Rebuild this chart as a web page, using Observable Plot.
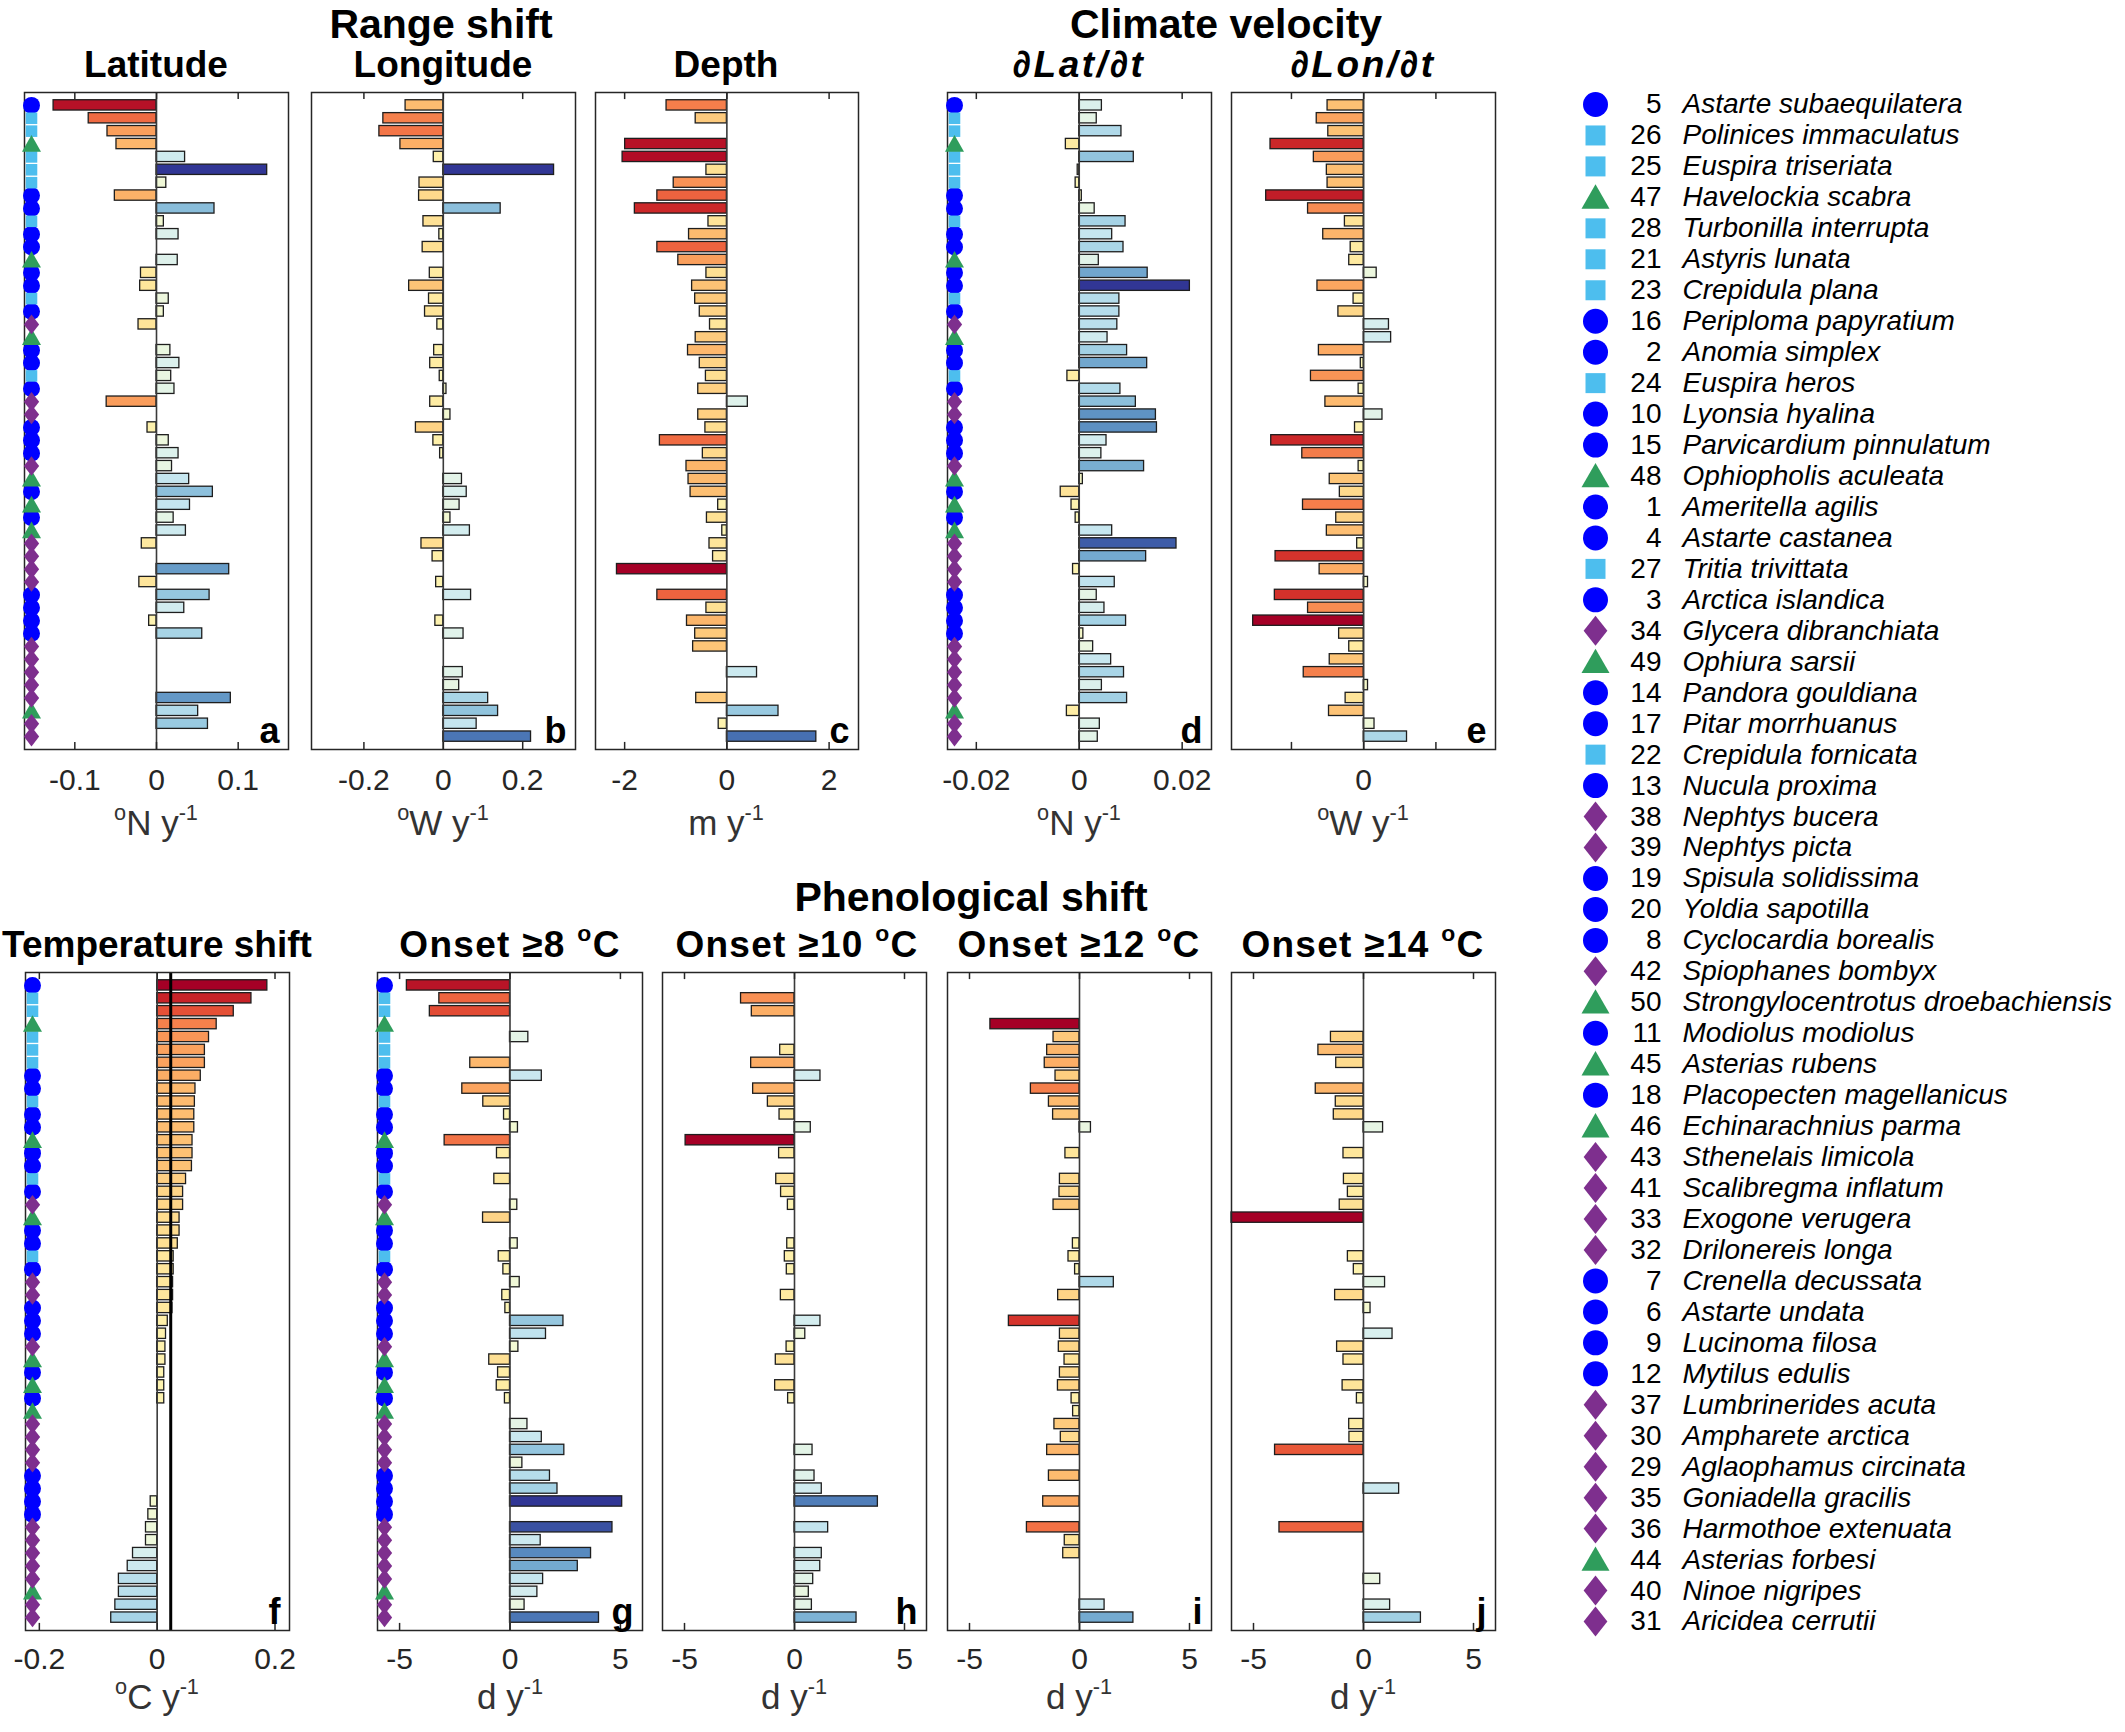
<!DOCTYPE html>
<html><head><meta charset="utf-8">
<script src="https://cdn.jsdelivr.net/npm/d3@7"></script>
<script src="https://cdn.jsdelivr.net/npm/@observablehq/plot@0.6"></script>
<style>
body{margin:0;background:#fff;}
#root{position:relative;width:2125px;height:1732px;font-family:"Liberation Sans",Arial,Helvetica,sans-serif;overflow:hidden;background:#fff}
.t{position:absolute;transform:translate(-50%,-50%);white-space:nowrap;color:#000;line-height:0.8;}
.gt{font-size:41px;font-weight:bold;}
.pt{font-size:37px;font-weight:bold;}
.ons{letter-spacing:1.3px;}
.dd{letter-spacing:2.6px;}
.al{font-size:35px;color:#333;}
.sup{font-size:0.62em;position:relative;top:-0.7em;}
.box{position:absolute;}
</style></head><body><div id="root"></div><script>
// ---------------- DATA ----------------
const speciesId = [5,26,25,47,28,21,23,16,2,24,10,15,48,1,4,27,3,34,49,14,17,22,13,38,39,19,20,8,42,50,11,45,18,46,43,41,33,32,7,6,9,12,37,30,29,35,36,44,40,31];
const speciesName = ["Astarte subaequilatera","Polinices immaculatus","Euspira triseriata","Havelockia scabra","Turbonilla interrupta","Astyris lunata","Crepidula plana","Periploma papyratium","Anomia simplex","Euspira heros","Lyonsia hyalina","Parvicardium pinnulatum","Ophiopholis aculeata","Ameritella agilis","Astarte castanea","Tritia trivittata","Arctica islandica","Glycera dibranchiata","Ophiura sarsii","Pandora gouldiana","Pitar morrhuanus","Crepidula fornicata","Nucula proxima","Nephtys bucera","Nephtys picta","Spisula solidissima","Yoldia sapotilla","Cyclocardia borealis","Spiophanes bombyx","Strongylocentrotus droebachiensis","Modiolus modiolus","Asterias rubens","Placopecten magellanicus","Echinarachnius parma","Sthenelais limicola","Scalibregma inflatum","Exogone verugera","Drilonereis longa","Crenella decussata","Astarte undata","Lucinoma filosa","Mytilus edulis","Lumbrinerides acuta","Ampharete arctica","Aglaophamus circinata","Goniadella gracilis","Harmothoe extenuata","Asterias forbesi","Ninoe nigripes","Aricidea cerrutii"];
// B = bivalve, G = gastropod, E = echinoderm, P = polychaete
const speciesTaxon = ["B","G","G","E","G","G","G","B","B","G","B","B","E","B","B","G","B","P","E","B","B","G","B","P","P","B","B","B","P","E","B","E","B","E","P","P","P","P","B","B","B","B","P","P","P","P","P","E","P","P"];
const taxonColor = {B:"#0000ff", G:"#4dbeee", E:"#2f9d5c", P:"#7e2f8e"};
const N = null;
// Range shift
const latShift = [-0.126,-0.083,-0.060,-0.049,0.035,0.1355,0.012,-0.051,0.071,0.009,0.027,N,0.026,-0.019,-0.020,0.015,0.009,-0.022,N,0.017,0.028,0.018,0.022,-0.061,N,-0.011,0.015,0.027,0.019,0.040,0.069,0.041,0.021,0.036,-0.018,N,0.089,-0.021,0.065,0.034,-0.009,0.056,N,N,N,N,0.091,0.051,0.063,N];
const lonShift = [-0.095,-0.151,-0.161,-0.108,-0.024,0.279,-0.060,-0.061,0.1445,-0.050,-0.010,-0.052,N,-0.034,-0.086,-0.036,-0.046,-0.015,N,-0.023,-0.033,-0.009,0.008,-0.033,0.018,-0.069,-0.025,-0.008,N,0.047,0.059,0.041,0.018,0.067,-0.055,-0.027,N,-0.018,0.070,N,-0.020,0.051,N,N,0.049,0.040,0.113,0.138,0.084,0.221];
const depthShift = [-1.18,-0.61,N,-1.99,-2.04,-0.40,-1.04,-1.36,-1.80,-0.36,-0.74,-1.36,-0.95,-0.40,-0.68,-0.62,-0.53,-0.33,-0.61,-0.76,-0.53,-0.41,-0.56,0.41,-0.56,-0.42,-1.31,-0.47,-0.79,-0.75,-0.71,-0.17,-0.39,-0.09,-0.34,-0.27,-2.15,N,-1.36,-0.40,-0.78,-0.62,-0.66,N,0.59,N,-0.60,1.01,-0.16,1.75];
// Climate velocity
const velLat = [0.0044,0.0034,0.0082,-0.0026,0.0106,-0.0003,-0.0007,0.0005,0.0030,0.0090,0.0064,0.0086,0.0038,0.0133,0.0215,0.0078,0.0078,0.0074,0.0055,0.0093,0.0132,-0.0023,0.0080,0.0110,0.0149,0.0151,0.0053,0.0043,0.0126,0.0007,-0.0036,-0.0015,-0.0007,0.0064,0.0189,0.0130,-0.0012,0.0069,0.0034,0.0049,0.0091,0.0008,0.0027,0.0062,0.0087,0.0044,0.0093,-0.0024,0.0040,0.0036];
const velLon = [-0.0050,-0.0065,-0.0049,-0.0129,-0.0069,-0.0051,-0.0050,-0.0135,-0.0077,-0.0026,-0.0056,-0.0018,-0.0020,0.0018,-0.0064,-0.0014,-0.0035,0.0035,0.0038,-0.0062,-0.0004,-0.0073,-0.0007,-0.0053,0.0026,-0.0012,-0.0128,-0.0085,-0.0007,-0.0047,-0.0033,-0.0084,-0.0038,-0.0051,-0.0009,-0.0122,-0.0061,0.0006,-0.0123,-0.0077,-0.0153,-0.0034,-0.0020,-0.0047,-0.0083,0.0006,-0.0025,-0.0048,0.0015,0.0060];
// Temperature shift (sorted)
const tempShift = [0.187,0.160,0.130,0.101,0.088,0.081,0.081,0.074,0.065,0.064,0.063,0.063,0.060,0.060,0.059,0.049,0.044,0.044,0.038,0.038,0.035,0.028,0.028,0.027,0.027,0.026,0.018,0.015,0.014,0.014,0.012,0.012,0.012,N,N,N,N,N,N,N,-0.011,-0.015,-0.019,-0.019,-0.041,-0.050,-0.065,-0.065,-0.071,-0.078];
const meanTempShift = 0.023;
// Phenological shift
const onset8 = [-4.67,-3.20,-3.63,N,0.83,N,-1.80,1.44,-2.16,-1.21,-0.27,0.36,-2.96,-0.59,N,-0.71,N,0.33,-1.22,N,0.35,-0.51,-0.30,0.44,-0.35,-0.21,2.42,1.63,0.38,-0.94,-0.54,-0.60,-0.23,N,0.79,1.44,2.46,0.56,1.81,2.15,5.08,N,4.64,1.39,3.67,3.07,1.50,1.24,0.66,4.03];
const onset10 = [N,-2.43,-1.94,N,N,-0.65,-1.97,1.18,-1.88,-1.21,-0.68,0.74,-4.95,-0.70,N,-0.83,-0.61,-0.30,N,N,-0.33,-0.44,-0.35,N,-0.62,N,1.18,0.49,-0.36,-0.85,N,-0.88,-0.29,N,N,N,0.82,N,0.91,1.24,3.79,N,1.53,N,1.24,1.17,0.85,0.65,0.79,2.82];
const onset12 = [N,N,N,-4.05,-1.18,-1.47,-1.58,-1.09,-2.21,-1.39,-1.20,0.52,N,-0.64,N,-0.89,-0.91,-1.18,N,N,-0.30,-0.50,-0.20,1.56,-0.97,N,-3.21,-0.89,-0.94,-0.68,-0.89,-0.98,-0.36,-0.29,-1.14,-0.85,-1.47,N,-1.39,N,-1.65,N,-2.39,-0.67,-0.74,N,N,N,1.14,2.45];
const onset14 = [N,N,N,N,-1.48,-2.05,-1.24,N,-2.17,-1.26,-1.35,0.89,N,-0.91,N,-0.89,-0.71,-1.08,-6.0,N,N,-0.71,-0.44,0.98,-1.29,0.32,N,1.32,-1.20,-0.91,N,-0.95,-0.30,N,-0.65,-0.64,-4.02,N,N,1.62,N,N,-3.82,N,N,N,0.76,N,1.21,2.61];
// Tick values
const ticksLat = [-0.1,0,0.1], ticksLon = [-0.2,0,0.2], ticksDepth = [-2,0,2];
const ticksVLat = [-0.02,0,0.02], ticksVLon = [-0.01,0,0.01], ticksTemp = [-0.2,0,0.2], ticksOnset = [-5,0,5];

// ---------------- DRAWING ----------------
const FONT = '"Liberation Sans", Arial, Helvetica, sans-serif';
const root = document.getElementById("root");

function symbols(sq, dw, dh) {
  return {
    B: {draw(c, s){ const r = Math.sqrt(s/Math.PI); c.moveTo(r,0); c.arc(0,0,r,0,2*Math.PI); }},
    G: {draw(c, s){ const r = Math.sqrt(s/Math.PI)*sq; c.rect(-r,-r,2*r,2*r); }},
    E: {draw(c, s){ const r = Math.sqrt(s/Math.PI); c.moveTo(0,-1.05*r); c.lineTo(1.12*r,0.9*r); c.lineTo(-1.12*r,0.9*r); c.closePath(); }},
    P: {draw(c, s){ const r = Math.sqrt(s/Math.PI); c.moveTo(0,-dh*r); c.lineTo(dw*r,0); c.lineTo(0,dh*r); c.lineTo(-dw*r,0); c.closePath(); }}
  };
}

function place(el, left, top) {
  const d = document.createElement("div");
  d.className = "box";
  d.style.left = left + "px"; d.style.top = top + "px";
  d.appendChild(el); root.appendChild(d);
}
function text(html, x, y, cls) {
  const d = document.createElement("div");
  d.className = "t " + cls; d.innerHTML = html;
  d.style.left = x + "px"; d.style.top = y + "px";
  root.appendChild(d);
}

function panel(cfg) {
  const {values, frame:[x0, x1, y0, y1], domain, ticks, fmt = d => String(d), reverse = false, markers = false, letter, vline} = cfg;
  const padL = 14, padR = 14, padT = 12, padB = 62;
  const rows = values.map((v, i) => ({k: i + 1, v, taxon: speciesTaxon[i]}));
  const bars = rows.filter(d => d.v != null);
  const m = d3.max(bars, d => Math.abs(d.v));
  const sym = symbols(0.68, 0.9, 1.15);
  const marks = [
    Plot.rect(bars, {x1: () => 0, x2: "v", y1: d => d.k - 0.4, y2: d => d.k + 0.4, fill: "v", stroke: "#1e1e1e", strokeWidth: 1.3}),
    Plot.ruleX([0], {x: d => d, stroke: "#3a3a3a", strokeWidth: 1.6}),
    Plot.ruleX(ticks, {x: d => d, y1: () => 0, y2: () => 0.55, stroke: "#262626", strokeWidth: 1.5}),
    Plot.ruleX(ticks, {x: d => d, y1: () => 51, y2: () => 50.45, stroke: "#262626", strokeWidth: 1.5})
  ];
  if (vline != null) marks.push(Plot.ruleX([vline], {x: d => d, stroke: "#000", strokeWidth: 3}));
  marks.push(Plot.frame({stroke: "#262626", strokeWidth: 1.5}));
  if (markers) {
    for (const t of ["B","G","E","P"]) {
      marks.push(Plot.dot(rows.filter(d => d.taxon === t), {y: "k", frameAnchor: "left", dx: 7, r: 8.5, symbol: sym[t], fill: taxonColor[t], stroke: "none"}));
    }
  }
  marks.push(Plot.text([letter], {text: d => d, frameAnchor: "bottom-right", dx: -9, dy: -7, textAnchor: "end", lineAnchor: "bottom", fontSize: 36, fontWeight: "bold", fill: "#000"}));
  const svg = Plot.plot({
    width: (x1 - x0) + padL + padR, height: (y1 - y0) + padT + padB,
    marginLeft: padL, marginRight: padR, marginTop: padT, marginBottom: padB,
    x: {domain, ticks, tickFormat: fmt, tickSize: 0, tickPadding: y0 > 500 ? 17 : 19, label: null},
    y: {domain: [51, 0], axis: null},
    color: {type: "linear", scheme: "RdYlBu", domain: [-m, m], reverse},
    style: {fontFamily: FONT, fontSize: "30px", color: "#262626", background: "transparent", overflow: "visible"},
    marks
  });
  place(svg, x0 - padL, y0 - padT);
}

const UP = [92, 749], LO = [972, 1630];
panel({values: latShift, frame: [24, 288, ...UP], domain: [-0.1616, 0.1616], ticks: ticksLat, markers: true, letter: "a"});
panel({values: lonShift, frame: [311, 575, ...UP], domain: [-0.332, 0.333], ticks: ticksLon, letter: "b"});
panel({values: depthShift, frame: [595, 858, ...UP], domain: [-2.57, 2.575], ticks: ticksDepth, letter: "c"});
panel({values: velLat, frame: [947, 1211, ...UP], domain: [-0.0256, 0.0257], ticks: ticksVLat, markers: true, letter: "d"});
panel({values: velLon, frame: [1231, 1495, ...UP], domain: [-0.0183, 0.01825], ticks: ticksVLon, fmt: d => d === 0 ? "0" : "", letter: "e"});
panel({values: tempShift, frame: [25, 289, ...LO], domain: [-0.2235, 0.2246], ticks: ticksTemp, reverse: true, markers: true, letter: "f", vline: meanTempShift});
panel({values: onset8, frame: [377, 642, ...LO], domain: [-6, 6], ticks: ticksOnset, markers: true, letter: "g"});
panel({values: onset10, frame: [662, 926, ...LO], domain: [-6, 6], ticks: ticksOnset, letter: "h"});
panel({values: onset12, frame: [947, 1211, ...LO], domain: [-6, 6], ticks: ticksOnset, letter: "i"});
panel({values: onset14, frame: [1231, 1495, ...LO], domain: [-6, 6], ticks: ticksOnset, letter: "j"});

// Legend
(function legend() {
  const rows = speciesId.map((id, i) => ({k: i + 1, id, name: speciesName[i], taxon: speciesTaxon[i]}));
  const sym = symbols(0.8, 0.95, 1.2);
  const marks = [];
  for (const t of ["B","G","E","P"]) {
    marks.push(Plot.dot(rows.filter(d => d.taxon === t), {y: "k", frameAnchor: "left", dx: 35, r: 12.5, symbol: sym[t], fill: taxonColor[t], stroke: "none"}));
  }
  marks.push(Plot.text(rows, {y: "k", text: d => String(d.id), frameAnchor: "left", dx: 101, textAnchor: "end", fontSize: 28, fill: "#000"}));
  marks.push(Plot.text(rows, {y: "k", text: "name", frameAnchor: "left", dx: 122, textAnchor: "start", fontSize: 28, fontStyle: "italic", fill: "#000"}));
  const svg = Plot.plot({
    width: 565, height: 1557, marginLeft: 0, marginRight: 0, marginTop: 20, marginBottom: 20,
    y: {domain: [50, 1], axis: null},
    style: {fontFamily: FONT, background: "transparent", overflow: "visible"},
    marks
  });
  place(svg, 1560, 84);
})();

// Titles
const S = s => `<span class="sup">${s}</span>`;
text("Range shift", 441, 24, "gt");
text("Climate velocity", 1226, 24, "gt");
text("Latitude", 156, 65, "pt");
text("Longitude", 443, 65, "pt");
text("Depth", 726, 65, "pt");
text("<i>∂Lat/∂t</i>", 1079, 65, "pt dd");
text("<i>∂Lon/∂t</i>", 1363, 65, "pt dd");
text("Phenological shift", 971, 897, "gt");
text("Temperature shift", 157, 945, "pt");
text(`Onset ≥8 ${S("o")}C`, 510, 945, "pt ons");
text(`Onset ≥10 ${S("o")}C`, 797, 945, "pt ons");
text(`Onset ≥12 ${S("o")}C`, 1079, 945, "pt ons");
text(`Onset ≥14 ${S("o")}C`, 1363, 945, "pt ons");
// Axis labels
text(`${S("o")}N y${S("-1")}`, 156, 823, "al");
text(`${S("o")}W y${S("-1")}`, 443, 823, "al");
text(`m y${S("-1")}`, 726, 823, "al");
text(`${S("o")}N y${S("-1")}`, 1079, 823, "al");
text(`${S("o")}W y${S("-1")}`, 1363, 823, "al");
text(`${S("o")}C y${S("-1")}`, 157, 1697, "al");
text(`d y${S("-1")}`, 510, 1697, "al");
text(`d y${S("-1")}`, 794, 1697, "al");
text(`d y${S("-1")}`, 1079, 1697, "al");
text(`d y${S("-1")}`, 1363, 1697, "al");
</script></body></html>
